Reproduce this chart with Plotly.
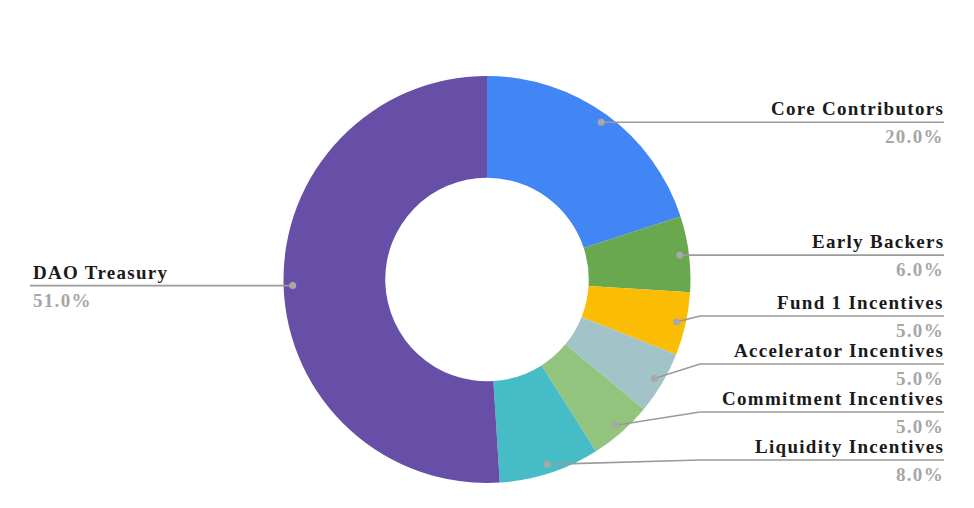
import math
import plotly.graph_objects as go

labels = ["Core Contributors", "Early Backers", "Fund 1 Incentives", "Accelerator Incentives",
          "Commitment Incentives", "Liquidity Incentives", "DAO Treasury"]
values = [20.0, 6.0, 5.0, 5.0, 5.0, 8.0, 51.0]
colors = ["#4285f4", "#6aa84f", "#fbbc04", "#a2c4c9", "#93c47d", "#46bdc6", "#674ea7"]

W, H = 974, 508
CX, CY, R = 487, 279.5, 203.5
HOLE = 0.5

def px(x):
    return x / W

def py(y):
    return 1 - y / H

fig = go.Figure(go.Pie(
    labels=labels, values=values, sort=False, direction="clockwise", rotation=0,
    hole=HOLE, marker=dict(colors=colors, line=dict(width=0)),
    textinfo="none", hoverinfo="label+percent", showlegend=False,
    domain=dict(x=[px(CX - R), px(CX + R)], y=[py(CY + R), py(CY - R)]),
))

total = sum(values)
shapes, annots = [], []
cum = 0.0
dots = []
for lab, v in zip(labels, values):
    mid = (cum + v / 2) / total * 2 * math.pi
    cum += v
    rd = R * 0.955
    dx = CX + rd * math.sin(mid)
    dy = CY - rd * math.cos(mid)
    dots.append((lab, v, dx, dy))

# label line positions: right side spread bottom-up with min gap
GAP, YMAX = 48, 460
right = [d for d in dots if d[2] >= CX]
left = [d for d in dots if d[2] < CX]
ly = {}
limit = YMAX
for lab, v, dx, dy in sorted(right, key=lambda d: -d[3]):
    y = min(dy, limit)
    ly[lab] = y
    limit = y - GAP
for lab, v, dx, dy in left:
    ly[lab] = dy

LINE = "#9a9a9a"
ELBOW_X = 700
FS = 19
SP = "letter-spacing:1.3px"
FAM = "Liberation Serif, Times New Roman, serif"
for lab, v, dx, dy in dots:
    y = ly[lab]
    if dx >= CX:
        xend = 944
        if abs(y - dy) > 1:
            pts = [(dx, dy), (ELBOW_X, y), (xend, y)]
        else:
            pts = [(dx, dy), (xend, y)]
        xa, anchor = xend + 2, "right"
    else:
        xend = 30
        pts = [(dx, dy), (xend, y)]
        xa, anchor = xend + 1, "left"
    path = "M " + " L ".join(f"{px(a)},{py(b)}" for a, b in pts)
    shapes.append(dict(type="path", path=path, xref="paper", yref="paper",
                       line=dict(color=LINE, width=1.6)))
    shapes.append(dict(type="circle", xref="paper", yref="paper",
                       x0=px(dx - 3.5), x1=px(dx + 3.5), y0=py(dy + 3.5), y1=py(dy - 3.5),
                       fillcolor="#a8a8a8", line=dict(width=0)))
    annots.append(dict(x=px(xa), y=py(y - 1), xref="paper", yref="paper",
                       xanchor=anchor, yanchor="bottom", showarrow=False,
                       text=f"<span style='{SP}'><b>{lab}</b></span>",
                       font=dict(family=FAM, size=FS, color="#1a1a1a")))
    annots.append(dict(x=px(xa), y=py(y + 2), xref="paper", yref="paper",
                       xanchor=anchor, yanchor="top", showarrow=False,
                       text=f"<span style='{SP}'><b>{v / total * 100:.1f}%</b></span>",
                       font=dict(family=FAM, size=FS, color="#a6a6a6")))

fig.update_layout(
    width=W, height=H, margin=dict(l=0, r=0, t=0, b=0),
    paper_bgcolor="white", plot_bgcolor="white",
    shapes=shapes, annotations=annots,
)
fig.write_html("out.html")
